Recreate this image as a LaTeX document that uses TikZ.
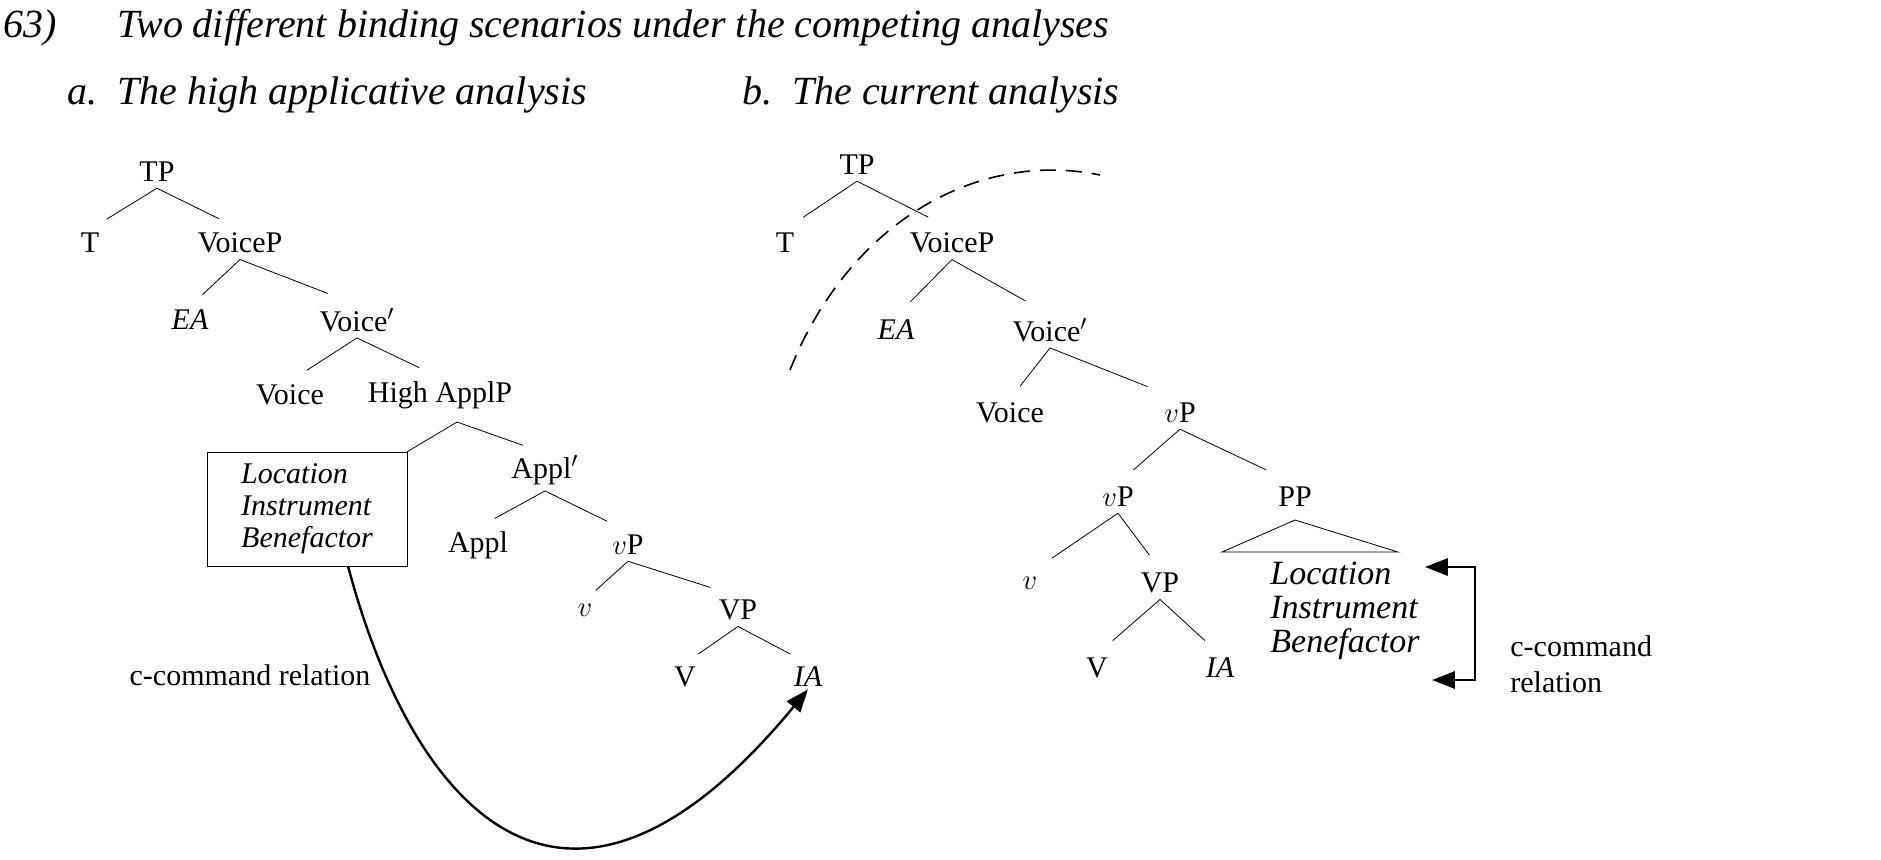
\documentclass[tikz,border=0pt]{standalone}
\usepackage{fontspec}
\setmainfont{Liberation Serif}
\usetikzlibrary{arrows.meta,calc}
\tikzset{>={Triangle[length=4mm,width=3mm]}}

\begin{document}
\begin{tikzpicture}[x=0.5pt,y=-0.5pt]
\tikzset{lab/.style={font=\fontsize{15}{18}\selectfont, inner sep=1pt},
         ital/.style={lab, font=\fontsize{15}{18}\selectfont\itshape},
         branch/.style={thin},
         headline/.style={font=\fontsize{20}{24}\selectfont\itshape, anchor=west}}
    \node[headline] (num) at (-4,28) {63)};
    \node[headline] (title) at (110,28) {Two different binding scenarios under the competing analyses};
    \node[headline] (ha) at (60,95) {a.\ \ The high applicative analysis};
    \node[headline] (hb) at (735,95) {b.\ \ The current analysis};
% % % % % % % % % % % % % % % % % % %
    \node[lab] (TPa) at (157,172) {TP};
    \node[lab] (Ta) at (90,243) {T};
    \node[lab] (VoicePa) at (240,243) {VoiceP};
    \node[ital] (EAa) at (190,320) {EA};
    \node[lab] (Voicebara) at (357,320) {Voice$'$};
    \node[lab] (Voicea) at (290,395) {Voice};
    \node[lab] (ApplP) at (440,395) {High ApplP};
    \node[draw, thin, minimum width=100pt, minimum height=57pt, align=left,
          font=\fontsize{15}{16}\selectfont\itshape] (Box) at (307,509)
          {Location\\Instrument\\Benefactor};
    \node[lab] (Applbar) at (545,470) {Appl$'$};
    \node[lab] (Appl) at (478,545) {Appl};
    \node[lab] (vPa) at (628,545) {$v$P};
    \node[lab] (va) at (585,610) {$v$};
    \node[lab] (VPa) at (738,610) {VP};
    \node[lab] (Va) at (685,677) {V};
    \node[ital] (IAa) at (808,677) {IA};
    \node[lab] (cca) at (250,675) {c-command relation};

    \foreach \p/\c in {TPa/Ta, TPa/VoicePa, VoicePa/EAa, VoicePa/Voicebara,
                       Voicebara/Voicea, Voicebara/ApplP, Applbar/Appl, Applbar/vPa,
                       vPa/va, vPa/VPa, VPa/Va, VPa/IAa}
        \draw[branch] ($(\p.south)+(0,4)$) -- ($(\p.south)!0.75!(\c.north)$);
    \draw[branch] (457,422) -- (Box.north east);
    \draw[branch] (457,422) -- ($(457,422)!0.75!(Applbar.north)$);

    \draw[very thick, ->] (348,566) .. controls (410,800) and (560,990) .. (IAa.south);
% % % % % % % % % % % % % % % % % % %
    \node[lab] (TPb) at (857,165) {TP};
    \node[lab] (Tb) at (785,243) {T};
    \node[lab] (VoicePb) at (952,243) {VoiceP};
    \node[ital] (EAb) at (896,330) {EA};
    \node[lab] (Voicebarb) at (1050,330) {Voice$'$};
    \node[lab] (Voiceb) at (1010,413) {Voice};
    \node[lab] (vPb) at (1180,413) {$v$P};
    \node[lab] (vPlow) at (1118,497) {$v$P};
    \node[lab] (PP) at (1295,497) {PP};
    \node[lab] (vb) at (1030,583) {$v$};
    \node[lab] (VPb) at (1160,583) {VP};
    \node[lab] (Vb) at (1097,668) {V};
    \node[ital] (IAb) at (1220,668) {IA};
    \node[align=left, anchor=north west, inner sep=0pt,
          font=\fontsize{17}{17}\selectfont\itshape] (Obl) at (1270,562)
          {Location\\Instrument\\Benefactor};
    \node[lab, align=left, anchor=west] (ccb) at (1508,664) {c-command\\relation};

    \foreach \p/\c in {TPb/Tb, TPb/VoicePb, VoicePb/EAb, VoicePb/Voicebarb,
                       Voicebarb/Voiceb, Voicebarb/vPb, vPb/vPlow, vPb/PP,
                       vPlow/vb, vPlow/VPb, VPb/Vb, VPb/IAb}
        \draw[branch] ($(\p.south)+(0,4)$) -- ($(\p.south)!0.75!(\c.north)$);
    \draw[branch] (1295,520) -- (1398,552) -- (1222,552) -- cycle;

    \coordinate (At) at (1425,567);
    \coordinate (Rt) at (1475,567);
    \coordinate (Rb) at (1475,680);
    \coordinate (Ab) at (1432,680);
    \draw[very thick, <->] (At) -- (Rt) -- (Rb) -- (Ab);
    \draw[thick, dash pattern=on 8pt off 5pt] (790,370) .. controls (850,220) and (980,150) .. (1100,175);

    \pgfresetboundingbox
    \useasboundingbox (0,0) rectangle (1881,859);
\end{tikzpicture}
\end{document}
